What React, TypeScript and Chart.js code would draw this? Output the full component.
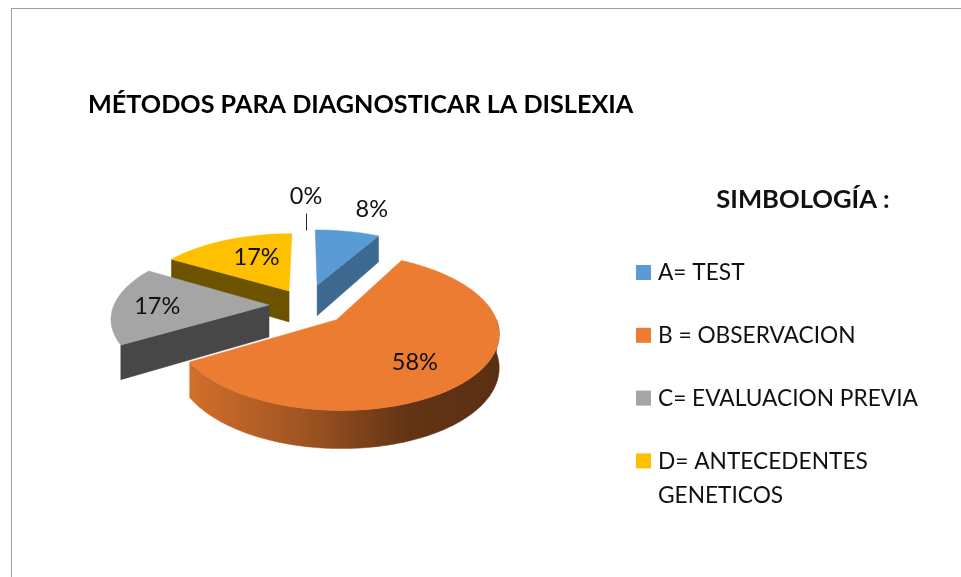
import React, { useEffect, useRef } from "react";
import { Chart, registerables } from "chart.js";

Chart.register(...registerables);

const titleText = "MÉTODOS PARA DIAGNOSTICAR LA DISLEXIA";
const legendTitle = "SIMBOLOGÍA :";
const categories: (string | string[])[] = [
  "A= TEST",
  "B = OBSERVACION",
  "C= EVALUACION PREVIA",
  ["D= ANTECEDENTES", "GENETICOS"],
  "",
];
const answerCounts = [1, 7, 2, 2, 0];
const sliceColors = ["#5b9bd5", "#eb7c31", "#a5a5a5", "#ffc000", "#4472c4"];
const sliceOffsets = [45, 42, 37, 35, 0];

const FONT = "Lato, 'Noto Sans', sans-serif";
const TEXT = "#111111";
const VIEW_X = 306;
const VIEW_Y = 305;
const TILT = 0.478;
const DEPTH = 32;
const PERSPECTIVE = 0.00105;
const MIN_WALL_ANGLE = Math.PI / 4;

const labelAlong = [0.62, 0.515, 0.49, 0.59, 0];
const labelReach = [1.68, 0.66, 0.72, 0.6, 2.5];

function project(dx: number, dy: number, z = 0) {
  const f = 1 + PERSPECTIVE * dy;
  return { x: VIEW_X + dx * f, y: VIEW_Y + TILT * dy * f + z * f };
}

function shade(hex: string, k: number) {
  const n = parseInt(hex.slice(1), 16);
  const c = [(n >> 16) & 255, (n >> 8) & 255, n & 255].map((v) => Math.round(v * k));
  return `rgb(${c[0]},${c[1]},${c[2]})`;
}

function poly(ctx: CanvasRenderingContext2D, pts: { x: number; y: number }[], fill: string | CanvasGradient) {
  ctx.beginPath();
  pts.forEach((p, i) => (i ? ctx.lineTo(p.x, p.y) : ctx.moveTo(p.x, p.y)));
  ctx.closePath();
  ctx.fillStyle = fill;
  ctx.fill();
  ctx.strokeStyle = fill;
  ctx.lineWidth = 0.5;
  ctx.stroke();
}

const pie3d = {
  id: "pie3d",
  beforeDatasetsDraw(chart: any) {
    const ctx: CanvasRenderingContext2D = chart.ctx;
    const arcs: any[] = chart.getDatasetMeta(0).data;
    const colors: string[] = chart.data.datasets[0].backgroundColor;
    const geo = arcs.map((arc, i) => {
      const mid = (arc.startAngle + arc.endAngle) / 2;
      const o = arc.options.offset || 0;
      return {
        i,
        arc,
        mid,
        r: arc.outerRadius as number,
        ax: Math.cos(mid) * o,
        ay: Math.sin(mid) * o,
      };
    });
    const order = geo
      .filter((g) => g.arc.circumference > 0)
      .sort((a, b) => Math.sin(a.mid) - Math.sin(b.mid));

    for (const g of order) {
      const { arc, r, ax, ay } = g;
      const color = colors[g.i];
      const pt = (a: number, z = 0) => project(ax + Math.cos(a) * r, ay + Math.sin(a) * r, z);
      const sides = [
        { a: arc.startAngle as number, ny: -Math.cos(arc.startAngle) },
        { a: arc.endAngle as number, ny: Math.cos(arc.endAngle) },
      ];
      for (const s of sides) {
        if (s.ny > 0.01) {
          poly(
            ctx,
            [project(ax, ay), pt(s.a), pt(s.a, DEPTH), project(ax, ay, DEPTH)],
            shade(color, 1 - 0.66 * s.ny)
          );
        }
      }
      // Outer wall: only the stretch that faces the viewer (canvas angles 0..PI)
      const step = Math.PI / 180;
      const turn = Math.PI * 2;
      let from: number = arc.startAngle;
      let to: number = arc.endAngle;
      while (from >= Math.PI) {
        from -= turn;
        to -= turn;
      }
      const a0 = Math.max(from, 0);
      const a1 = Math.min(to, Math.PI);
      if (a1 - a0 > MIN_WALL_ANGLE) {
        const top: { x: number; y: number }[] = [];
        const bottom: { x: number; y: number }[] = [];
        for (let a = a0; a < a1; a += step) {
          top.push(pt(a));
          bottom.push(pt(a, DEPTH));
        }
        top.push(pt(a1));
        bottom.push(pt(a1, DEPTH));
        const grad = ctx.createLinearGradient(VIEW_X - 120, 0, VIEW_X + 195, 0);
        grad.addColorStop(0, shade(color, 0.9));
        grad.addColorStop(0.4, shade(color, 0.66));
        grad.addColorStop(0.7, shade(color, 0.42));
        grad.addColorStop(1, shade(color, 0.38));
        poly(ctx, [...top, ...bottom.reverse()], grad);
      }
      // Top face
      const face = [project(ax, ay)];
      const n = Math.ceil((arc.endAngle - arc.startAngle) / step);
      for (let k = 0; k <= n; k++) {
        face.push(pt(arc.startAngle + ((arc.endAngle - arc.startAngle) * k) / n));
      }
      poly(ctx, face, color);
    }

    // Percentage labels
    const values: number[] = chart.data.datasets[0].data;
    const total = values.reduce((s, v) => s + v, 0);
    ctx.font = `23.5px ${FONT}`;
    ctx.textAlign = "center";
    ctx.textBaseline = "middle";
    for (const g of geo) {
      const a = g.arc.startAngle + (g.arc.endAngle - g.arc.startAngle) * labelAlong[g.i];
      const rr = g.r * labelReach[g.i];
      const p = project(g.ax + Math.cos(a) * rr, g.ay + Math.sin(a) * rr);
      ctx.fillStyle = TEXT;
      ctx.fillText(`${Math.round((values[g.i] / total) * 100)}%`, p.x, p.y + 1);
      if (values[g.i] === 0) {
        const p1 = project(g.ax + Math.cos(a) * g.r * 1.71, g.ay + Math.sin(a) * g.r * 1.71);
        const p2 = project(g.ax + Math.cos(a) * g.r * 1.27, g.ay + Math.sin(a) * g.r * 1.27);
        ctx.strokeStyle = "#222222";
        ctx.lineWidth = 1;
        ctx.beginPath();
        ctx.moveTo(Math.round(p1.x) + 0.5, p1.y);
        ctx.lineTo(Math.round(p2.x) + 0.5, p2.y);
        ctx.stroke();
      }
    }
    return false;
  },
};

const symbolLegend = {
  id: "symbolLegend",
  afterDraw(chart: any) {
    const ctx: CanvasRenderingContext2D = chart.ctx;
    const colors: string[] = chart.data.datasets[0].backgroundColor;
    ctx.save();
    ctx.textBaseline = "middle";
    ctx.textAlign = "center";
    ctx.fillStyle = TEXT;
    ctx.font = `bold 25.6px ${FONT}`;
    ctx.fillText(legendTitle, 803, 200);
    ctx.textAlign = "left";
    ctx.font = `22.7px ${FONT}`;
    (chart.data.labels as (string | string[])[]).forEach((label, i) => {
      if (!label) return;
      const y = 272.5 + i * 62.8;
      ctx.fillStyle = colors[i];
      ctx.fillRect(636, y - 7.5, 15, 15);
      ctx.fillStyle = TEXT;
      (Array.isArray(label) ? label : [label]).forEach((line, k) => {
        ctx.fillText(line, 658, y + 0.5 + k * 34);
      });
    });
    ctx.restore();
  },
};

export default function App() {
  const ref = useRef<HTMLCanvasElement>(null);
  useEffect(() => {
    document.body.style.margin = "0";
    document.body.style.overflow = "hidden";
    const chart = new Chart(ref.current as HTMLCanvasElement, {
      type: "pie",
      data: {
        labels: categories as any,
        datasets: [
          {
            data: answerCounts,
            backgroundColor: sliceColors,
            offset: sliceOffsets,
            radius: 155,
            borderWidth: 0,
          } as any,
        ],
      },
      options: {
        responsive: false,
        animation: false,
        layout: { padding: { left: 88, top: 90 } },
        plugins: {
          legend: { display: false },
          tooltip: { enabled: false },
          title: {
            display: true,
            text: titleText,
            align: "start",
            color: "#000000",
            font: { family: FONT, size: 25.2, weight: "bold" },
            padding: { top: 0, bottom: 0 },
          },
        },
      },
      plugins: [pie3d, symbolLegend],
    } as any);
    return () => chart.destroy();
  }, []);
  return (
    <div style={{ position: "relative", width: 961, height: 577, overflow: "hidden", background: "#fff" }}>
      <div
        style={{
          position: "absolute",
          left: 11,
          top: 8,
          width: 1000,
          height: 640,
          border: "1.5px solid #a0a0a0",
          boxSizing: "border-box",
        }}
      />
      <canvas ref={ref} width={961} height={577} style={{ position: "absolute", left: 0, top: 0 }} />
    </div>
  );
}
